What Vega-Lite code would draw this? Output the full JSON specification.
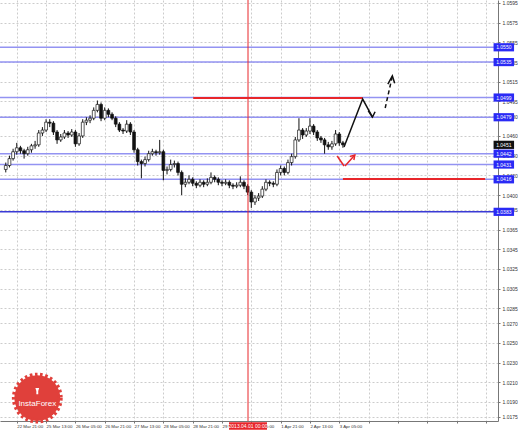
{
  "$schema": "https://vega.github.io/schema/vega-lite/v6.json",
  "width": 498,
  "height": 421,
  "padding": {"left": 0, "top": 0, "right": 20, "bottom": 10},
  "autosize": {"type": "none"},
  "background": "#ffffff",
  "config": {
    "view": {"stroke": null},
    "font": "Liberation Sans",
    "axis": {
      "title": null, "labelFontSize": 5, "labelColor": "#333333",
      "tickSize": 2, "tickColor": "#777777", "domainColor": "#777777",
      "grid": true, "gridColor": "#cccccc", "gridDash": [2, 2],
      "labelOverlap": false, "labelFlush": false, "labelBound": false, "labelSeparation": 0
    },
    "axisX": {"labelAlign": "left", "labelBaseline": "top", "labelPadding": 1, "labelFontSize": 4.4},
    "axisY": {"labelPadding": 2}
  },
  "datasets": {
    "candles": [
      {"t":-6,"o":1.0426,"h":1.0433,"l":1.0423,"c":1.0430},
      {"t":-4,"o":1.0430,"h":1.0440,"l":1.0428,"c":1.0437},
      {"t":-2,"o":1.0437,"h":1.0447,"l":1.0435,"c":1.0444},
      {"t":0,"o":1.0444,"h":1.0453,"l":1.0441,"c":1.0448},
      {"t":2,"o":1.0448,"h":1.0450,"l":1.0442,"c":1.0445},
      {"t":4,"o":1.0445,"h":1.0447,"l":1.0437,"c":1.0442},
      {"t":6,"o":1.0442,"h":1.0449,"l":1.0440,"c":1.0446},
      {"t":8,"o":1.0446,"h":1.0452,"l":1.0443,"c":1.0450},
      {"t":10,"o":1.0450,"h":1.0455,"l":1.0447,"c":1.0451},
      {"t":12,"o":1.0451,"h":1.0466,"l":1.0449,"c":1.0463},
      {"t":14,"o":1.0463,"h":1.0469,"l":1.0460,"c":1.0466},
      {"t":16,"o":1.0466,"h":1.0477,"l":1.0464,"c":1.0474},
      {"t":18,"o":1.0474,"h":1.0477,"l":1.0469,"c":1.0473},
      {"t":20,"o":1.0473,"h":1.0475,"l":1.0461,"c":1.0464},
      {"t":22,"o":1.0464,"h":1.0466,"l":1.0452,"c":1.0456},
      {"t":24,"o":1.0456,"h":1.0462,"l":1.0454,"c":1.0459},
      {"t":26,"o":1.0459,"h":1.0466,"l":1.0457,"c":1.0463},
      {"t":28,"o":1.0463,"h":1.0465,"l":1.0458,"c":1.0461},
      {"t":30,"o":1.0461,"h":1.0467,"l":1.0459,"c":1.0464},
      {"t":32,"o":1.0464,"h":1.0466,"l":1.0449,"c":1.0452},
      {"t":34,"o":1.0452,"h":1.0463,"l":1.0450,"c":1.0460},
      {"t":36,"o":1.0460,"h":1.0477,"l":1.0458,"c":1.0474},
      {"t":38,"o":1.0474,"h":1.0479,"l":1.0471,"c":1.0476},
      {"t":40,"o":1.0476,"h":1.0481,"l":1.0473,"c":1.0478},
      {"t":42,"o":1.0478,"h":1.0489,"l":1.0476,"c":1.0486},
      {"t":44,"o":1.0486,"h":1.0496,"l":1.0484,"c":1.0492},
      {"t":46,"o":1.0492,"h":1.0494,"l":1.0475,"c":1.0478},
      {"t":48,"o":1.0478,"h":1.0489,"l":1.0476,"c":1.0486},
      {"t":50,"o":1.0486,"h":1.0488,"l":1.0479,"c":1.0482},
      {"t":52,"o":1.0482,"h":1.0484,"l":1.0476,"c":1.0478},
      {"t":54,"o":1.0478,"h":1.0480,"l":1.0469,"c":1.0472},
      {"t":56,"o":1.0472,"h":1.0474,"l":1.0464,"c":1.0466},
      {"t":58,"o":1.0466,"h":1.0468,"l":1.0462,"c":1.0465},
      {"t":60,"o":1.0465,"h":1.0476,"l":1.0463,"c":1.0472},
      {"t":62,"o":1.0472,"h":1.0474,"l":1.0461,"c":1.0464},
      {"t":64,"o":1.0464,"h":1.0466,"l":1.0443,"c":1.0446},
      {"t":66,"o":1.0446,"h":1.0448,"l":1.0430,"c":1.0434},
      {"t":68,"o":1.0434,"h":1.0436,"l":1.0417,"c":1.0432},
      {"t":70,"o":1.0432,"h":1.0439,"l":1.0429,"c":1.0436},
      {"t":72,"o":1.0436,"h":1.0445,"l":1.0434,"c":1.0442},
      {"t":74,"o":1.0442,"h":1.0447,"l":1.0440,"c":1.0444},
      {"t":76,"o":1.0444,"h":1.0446,"l":1.0440,"c":1.0443},
      {"t":78,"o":1.0443,"h":1.0456,"l":1.0441,"c":1.0444},
      {"t":80,"o":1.0444,"h":1.0446,"l":1.0415,"c":1.0425},
      {"t":82,"o":1.0425,"h":1.0429,"l":1.0421,"c":1.0426},
      {"t":84,"o":1.0426,"h":1.0436,"l":1.0424,"c":1.0431},
      {"t":86,"o":1.0431,"h":1.0435,"l":1.0428,"c":1.0432},
      {"t":88,"o":1.0432,"h":1.0434,"l":1.0420,"c":1.0423},
      {"t":90,"o":1.0423,"h":1.0425,"l":1.0400,"c":1.0411},
      {"t":92,"o":1.0411,"h":1.0417,"l":1.0408,"c":1.0413},
      {"t":94,"o":1.0413,"h":1.0420,"l":1.0411,"c":1.0416},
      {"t":96,"o":1.0416,"h":1.0418,"l":1.0409,"c":1.0412},
      {"t":98,"o":1.0412,"h":1.0414,"l":1.0407,"c":1.0410},
      {"t":100,"o":1.0410,"h":1.0416,"l":1.0408,"c":1.0413},
      {"t":102,"o":1.0413,"h":1.0415,"l":1.0408,"c":1.0411},
      {"t":104,"o":1.0411,"h":1.0417,"l":1.0409,"c":1.0413},
      {"t":106,"o":1.0413,"h":1.0423,"l":1.0411,"c":1.0418},
      {"t":108,"o":1.0418,"h":1.0420,"l":1.0413,"c":1.0416},
      {"t":110,"o":1.0416,"h":1.0418,"l":1.0410,"c":1.0413},
      {"t":112,"o":1.0413,"h":1.0415,"l":1.0409,"c":1.0412},
      {"t":114,"o":1.0412,"h":1.0416,"l":1.0410,"c":1.0413},
      {"t":116,"o":1.0413,"h":1.0415,"l":1.0407,"c":1.0410},
      {"t":118,"o":1.0410,"h":1.0412,"l":1.0406,"c":1.0409},
      {"t":120,"o":1.0409,"h":1.0413,"l":1.0407,"c":1.0410},
      {"t":122,"o":1.0410,"h":1.0419,"l":1.0408,"c":1.0413},
      {"t":124,"o":1.0413,"h":1.0415,"l":1.0406,"c":1.0409},
      {"t":126,"o":1.0409,"h":1.0411,"l":1.0400,"c":1.0403},
      {"t":128,"o":1.0403,"h":1.0405,"l":1.0387,"c":1.0393},
      {"t":130,"o":1.0393,"h":1.0400,"l":1.0390,"c":1.0397},
      {"t":132,"o":1.0397,"h":1.0402,"l":1.0394,"c":1.0399},
      {"t":134,"o":1.0399,"h":1.0409,"l":1.0397,"c":1.0406},
      {"t":136,"o":1.0406,"h":1.0416,"l":1.0404,"c":1.0413},
      {"t":138,"o":1.0413,"h":1.0415,"l":1.0409,"c":1.0412},
      {"t":140,"o":1.0412,"h":1.0414,"l":1.0408,"c":1.0411},
      {"t":142,"o":1.0411,"h":1.0426,"l":1.0409,"c":1.0423},
      {"t":144,"o":1.0423,"h":1.0430,"l":1.0420,"c":1.0427},
      {"t":146,"o":1.0427,"h":1.0429,"l":1.0420,"c":1.0423},
      {"t":148,"o":1.0423,"h":1.0436,"l":1.0421,"c":1.0433},
      {"t":150,"o":1.0433,"h":1.0442,"l":1.0430,"c":1.0439},
      {"t":152,"o":1.0439,"h":1.0459,"l":1.0437,"c":1.0456},
      {"t":154,"o":1.0456,"h":1.0478,"l":1.0454,"c":1.0466},
      {"t":156,"o":1.0466,"h":1.0468,"l":1.0457,"c":1.0461},
      {"t":158,"o":1.0461,"h":1.0468,"l":1.0459,"c":1.0465},
      {"t":160,"o":1.0465,"h":1.0478,"l":1.0462,"c":1.0470},
      {"t":162,"o":1.0470,"h":1.0472,"l":1.0461,"c":1.0464},
      {"t":164,"o":1.0464,"h":1.0466,"l":1.0455,"c":1.0458},
      {"t":166,"o":1.0458,"h":1.0460,"l":1.0453,"c":1.0456},
      {"t":168,"o":1.0456,"h":1.0458,"l":1.0442,"c":1.0451},
      {"t":170,"o":1.0451,"h":1.0454,"l":1.0446,"c":1.0449},
      {"t":172,"o":1.0449,"h":1.0455,"l":1.0446,"c":1.0452},
      {"t":174,"o":1.0452,"h":1.0466,"l":1.0450,"c":1.0462},
      {"t":176,"o":1.0462,"h":1.0464,"l":1.0450,"c":1.0453},
      {"t":178,"o":1.0453,"h":1.0455,"l":1.0448,"c":1.0451}
    ],
    "levels": [
      {"p":1.0550,"k":"level"},
      {"p":1.0535,"k":"level"},
      {"p":1.0499,"k":"level"},
      {"p":1.0479,"k":"level"},
      {"p":1.0442,"k":"level"},
      {"p":1.0431,"k":"level"},
      {"p":1.0416,"k":"level"},
      {"p":1.0383,"k":"base"}
    ],
    "tags": [
      {"t":265.8,"p":1.0550,"k":"level"},
      {"t":265.8,"p":1.0535,"k":"level"},
      {"t":265.8,"p":1.0499,"k":"level"},
      {"t":265.8,"p":1.0479,"k":"level"},
      {"t":265.8,"p":1.0451,"k":"bid"},
      {"t":265.8,"p":1.0442,"k":"level"},
      {"t":265.8,"p":1.0431,"k":"level"},
      {"t":265.8,"p":1.0416,"k":"level"},
      {"t":265.8,"p":1.0383,"k":"level"}
    ],
    "redlevels": [
      {"t":96.3,"t2":188.8,"p":1.04985},
      {"t":178,"t2":255.6,"p":1.04163}
    ],
    "arrows": [
      {"g":"up1","i":0,"t":178.6,"p":1.04488},
      {"g":"up1","i":1,"t":188.77,"p":1.04975},
      {"g":"up1","i":2,"t":194.12,"p":1.04792},
      {"g":"head1","i":0,"t":191.82,"p":1.04856},
      {"g":"head1","i":1,"t":194.12,"p":1.04792},
      {"g":"head1","i":2,"t":195.56,"p":1.04846},
      {"g":"up2","i":0,"t":201.07,"p":1.04884},
      {"g":"up2","i":1,"t":204.97,"p":1.05209},
      {"g":"head2","i":0,"t":202.51,"p":1.05127},
      {"g":"head2","i":1,"t":204.97,"p":1.05209},
      {"g":"head2","i":2,"t":206.26,"p":1.05135},
      {"g":"r1","i":0,"t":174.87,"p":1.04397},
      {"g":"r1","i":1,"t":178.61,"p":1.04295},
      {"g":"r2","i":0,"t":179.14,"p":1.04295},
      {"g":"r2","i":1,"t":184.49,"p":1.04407},
      {"g":"rhead","i":0,"t":181.82,"p":1.04392},
      {"g":"rhead","i":1,"t":184.49,"p":1.04407},
      {"g":"rhead","i":2,"t":183.96,"p":1.04356}
    ],
    "dateline": [{"t":126.2,"p":1.01656,"label":"2013.04.01 00:00"}],
    "logo": [{"t":11.2,"p":1.0194,"label":"InstaForex"}]
  },
  "data": {"name": "candles"},
  "layer": [
    {
      "data": {"name": "levels"},
      "mark": {"type": "rule", "strokeWidth": 1.5},
      "encoding": {
        "y": {
          "field": "p", "type": "quantitative", "title": null,
          "scale": {"domain": [1.01707, 1.0598], "nice": false, "zero": false},
          "axis": {
            "orient": "right", "tickCount": 200,
            "values": [1.0595,1.0575,1.0555,1.0535,1.0515,1.0495,1.0480,1.0460,1.0440,1.0420,1.0400,1.0385,1.0365,1.0345,1.0325,1.0305,1.0285,1.0270,1.0250,1.0230,1.0210,1.0190,1.0175],
            "format": ".4f", "labelOverlap": false
          }
        },
        "color": {"condition": {"test": "datum.k == 'base'", "value": "#3a3ad6"}, "value": "#9393f2"}
      }
    },
    {
      "mark": {"type": "rule", "color": "#111111", "strokeWidth": 1},
      "encoding": {
        "x": {
          "field": "t", "type": "quantitative", "title": null,
          "scale": {"domain": [-6.42, 259.9], "nice": false, "zero": false},
          "axis": {
            "orient": "bottom", "tickCount": 200,
            "values": [0,16,32,48,64,80,96,112,128,144,160,176,192,208,224,240,256],
            "labelExpr": "datum.value <= 176 ? ['22 Mar 21:00','25 Mar 13:00','26 Mar 05:00','26 Mar 21:00','27 Mar 13:00','28 Mar 05:00','28 Mar 21:00','29 Mar 13:00','1 Apr 05:00','1 Apr 21:00','2 Apr 13:00','3 Apr 05:00'][datum.value / 16] : ''",
            "labelOverlap": false
          }
        },
        "y": {"field": "l", "type": "quantitative", "title": null},
        "y2": {"field": "h"}
      }
    },
    {
      "mark": {"type": "bar", "size": 2.8, "stroke": "#111111", "strokeWidth": 0.7},
      "encoding": {
        "x": {"field": "t", "type": "quantitative", "title": null},
        "y": {"field": "o", "type": "quantitative", "title": null},
        "y2": {"field": "c"},
        "fill": {"condition": {"test": "datum.c > datum.o", "value": "#ffffff"}, "value": "#111111"}
      }
    },
    {
      "data": {"name": "redlevels"},
      "mark": {"type": "rule", "color": "#e8262b", "strokeWidth": 2},
      "encoding": {
        "x": {"field": "t", "type": "quantitative", "title": null},
        "x2": {"field": "t2"},
        "y": {"field": "p", "type": "quantitative", "title": null}
      }
    },
    {
      "data": {"name": "dateline"},
      "mark": {"type": "rule", "color": "#e8262b", "strokeWidth": 1},
      "encoding": {
        "x": {"field": "t", "type": "quantitative", "title": null}
      }
    },
    {
      "data": {"name": "arrows"},
      "transform": [{"filter": {"field": "g", "oneOf": ["up1", "head1", "head2"]}}],
      "mark": {"type": "line", "color": "#111111", "strokeWidth": 1.5},
      "encoding": {
        "x": {"field": "t", "type": "quantitative", "title": null},
        "y": {"field": "p", "type": "quantitative", "title": null},
        "detail": {"field": "g"},
        "order": {"field": "i"}
      }
    },
    {
      "data": {"name": "arrows"},
      "transform": [{"filter": {"field": "g", "equal": "up2"}}],
      "mark": {"type": "line", "color": "#111111", "strokeWidth": 1.5, "strokeDash": [4, 3]},
      "encoding": {
        "x": {"field": "t", "type": "quantitative", "title": null},
        "y": {"field": "p", "type": "quantitative", "title": null},
        "detail": {"field": "g"},
        "order": {"field": "i"}
      }
    },
    {
      "data": {"name": "arrows"},
      "transform": [{"filter": {"field": "g", "oneOf": ["r1", "r2", "rhead"]}}],
      "mark": {"type": "line", "color": "#e8262b", "strokeWidth": 1.5},
      "encoding": {
        "x": {"field": "t", "type": "quantitative", "title": null},
        "y": {"field": "p", "type": "quantitative", "title": null},
        "detail": {"field": "g"},
        "order": {"field": "i"}
      }
    },
    {
      "data": {"name": "tags"},
      "mark": {"type": "point", "shape": "M-1,-0.4H1V0.4H-1Z", "size": 420, "filled": true, "opacity": 1, "strokeWidth": 0},
      "encoding": {
        "x": {"field": "t", "type": "quantitative", "title": null},
        "y": {"field": "p", "type": "quantitative", "title": null},
        "color": {"condition": {"test": "datum.k == 'bid'", "value": "#111111"}, "value": "#2a2af5"}
      }
    },
    {
      "data": {"name": "tags"},
      "mark": {"type": "text", "color": "#ffffff", "fontSize": 5, "align": "center", "baseline": "middle"},
      "encoding": {
        "x": {"field": "t", "type": "quantitative", "title": null},
        "y": {"field": "p", "type": "quantitative", "title": null},
        "text": {"field": "p", "type": "quantitative", "format": ".4f"}
      }
    },
    {
      "data": {"name": "dateline"},
      "mark": {"type": "point", "shape": "M-1,-0.2H1V0.2H-1Z", "size": 1444, "filled": true, "color": "#e8262b", "opacity": 1, "strokeWidth": 0},
      "encoding": {
        "x": {"field": "t", "type": "quantitative", "title": null},
        "y": {"field": "p", "type": "quantitative", "title": null}
      }
    },
    {
      "data": {"name": "dateline"},
      "mark": {"type": "text", "color": "#ffffff", "fontSize": 5, "align": "center", "baseline": "middle"},
      "encoding": {
        "x": {"field": "t", "type": "quantitative", "title": null},
        "y": {"field": "p", "type": "quantitative", "title": null},
        "text": {"field": "label"}
      }
    },
    {
      "data": {"name": "logo"},
      "mark": {"type": "point", "shape": "circle", "size": 2100, "filled": true, "color": "#e0403b", "opacity": 1, "stroke": "#e0403b", "strokeWidth": 5, "strokeDash": [2.5, 2.5]},
      "encoding": {
        "x": {"field": "t", "type": "quantitative", "title": null},
        "y": {"field": "p", "type": "quantitative", "title": null}
      }
    },
    {
      "data": {"name": "logo"},
      "mark": {"type": "point", "shape": "M-0.6,-1L0.6,-1L0.3,0L0.3,1L-0.3,1L-0.3,0Z", "size": 40, "filled": true, "color": "#ffffff", "opacity": 1, "yOffset": -7},
      "encoding": {
        "x": {"field": "t", "type": "quantitative", "title": null},
        "y": {"field": "p", "type": "quantitative", "title": null}
      }
    },
    {
      "data": {"name": "logo"},
      "mark": {"type": "text", "color": "#ffffff", "fontSize": 8, "align": "center", "baseline": "middle", "dy": 6},
      "encoding": {
        "x": {"field": "t", "type": "quantitative", "title": null},
        "y": {"field": "p", "type": "quantitative", "title": null},
        "text": {"field": "label"}
      }
    }
  ]
}
